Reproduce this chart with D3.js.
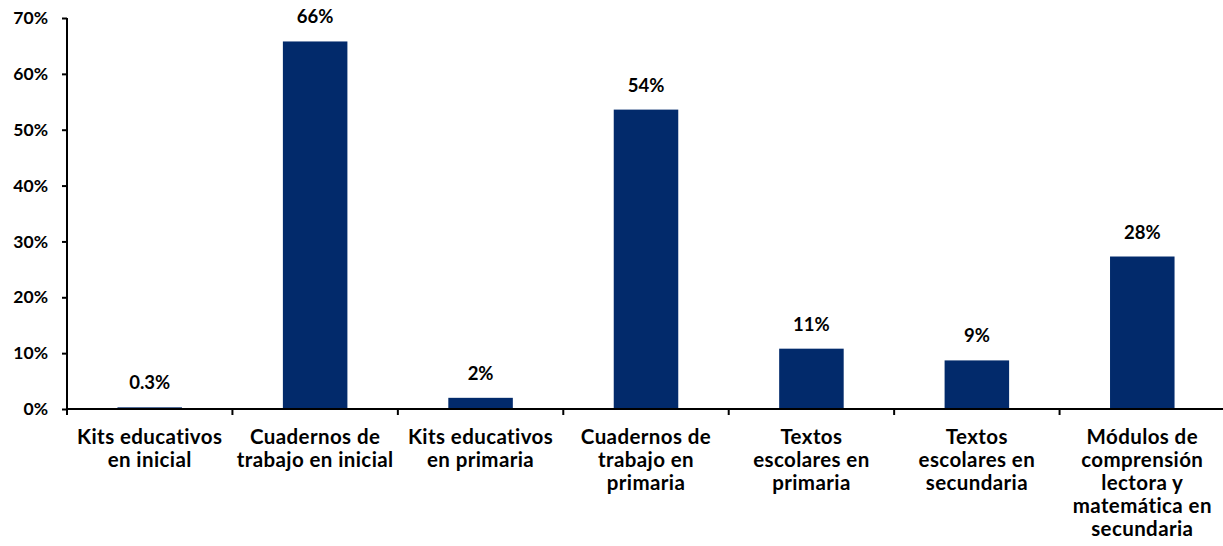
<!DOCTYPE html>
<meta charset="utf-8">
<title>Materiales educativos</title>
<style>
body { margin: 0; background: #fff; font-family: Lato, "Open Sans", sans-serif; }
svg { display: block; }
.axis path, .axis line { stroke: #000; stroke-width: 2; }
.axis text { font-weight: 700; font-size: 17.5px; fill: #000; font-family: Lato, sans-serif; }
.lbl { font-weight: 700; font-size: 18.5px; fill: #000; text-anchor: middle; }
.cat { font-weight: 700; font-size: 20.5px; letter-spacing: 0.4px; fill: #000; text-anchor: middle; }
</style>
<body>
<div id="graph"></div>
</body>
<script src="https://cdn.jsdelivr.net/npm/d3@7"></script>
<script>

var categories = [
  ['Kits educativos', 'en inicial'],
  ['Cuadernos de', 'trabajo en inicial'],
  ['Kits educativos', 'en primaria'],
  ['Cuadernos de', 'trabajo en', 'primaria'],
  ['Textos', 'escolares en', 'primaria'],
  ['Textos', 'escolares en', 'secundaria'],
  ['Módulos de', 'comprensión', 'lectora y', 'matemática en', 'secundaria']
]
var values = [0.3, 65.8, 2.0, 53.6, 10.8, 8.7, 27.3]
var labels = ['0.3%', '66%', '2%', '54%', '11%', '9%', '28%']
var yTicks = [0, 10, 20, 30, 40, 50, 60, 70]

var W = 1223, H = 546,
    margin = {left: 67, right: -2, top: 18, bottom: 137}

var svg = d3.select('#graph').append('svg').attr('width', W).attr('height', H)

var x = d3.scaleBand().domain(d3.range(values.length))
    .range([margin.left, W - margin.right]).paddingInner(0.61).paddingOuter(0.305)
var xb = d3.scaleBand().domain(d3.range(values.length))
    .range([margin.left, W - margin.right])
var y = d3.scaleLinear().domain([0, 70]).range([H - margin.bottom, margin.top])

svg.selectAll('rect.bar').data(values).join('rect')
  .attr('class', 'bar')
  .attr('x', function(d, i){ return x(i) })
  .attr('width', x.bandwidth())
  .attr('y', function(d){ return y(d) })
  .attr('height', function(d){ return y(0) - y(d) })
  .attr('fill', '#022a6b')

svg.selectAll('text.lbl').data(values).join('text')
  .attr('class', 'lbl')
  .attr('x', function(d, i){ return x(i) + x.bandwidth()/2 })
  .attr('y', function(d){ return y(d) - 18 })
  .text(function(d, i){ return labels[i] })

// y axis
var ya = svg.append('g').attr('class', 'axis')
  .attr('transform', 'translate(' + margin.left + ',0)')
  .call(d3.axisLeft(y).tickValues(yTicks).tickSize(5).tickPadding(14)
    .tickFormat(function(d){ return d + '%' }))
ya.select('.domain').attr('d', 'M0,' + y(70) + 'V' + y(0))

// x axis with ticks at category boundaries
var xa = svg.append('g').attr('class', 'axis')
  .attr('transform', 'translate(0,' + y(0) + ')')
xa.append('line').attr('x1', margin.left).attr('x2', W).attr('y1', 0).attr('y2', 0)
xa.selectAll('line.t').data(d3.range(values.length + 1)).join('line')
  .attr('class', 't')
  .attr('x1', function(i){ return i < values.length ? xb(i) : xb(i-1) + xb.bandwidth() })
  .attr('x2', function(i){ return i < values.length ? xb(i) : xb(i-1) + xb.bandwidth() })
  .attr('y1', 0).attr('y2', 6)

svg.selectAll('text.cat').data(categories).join('text')
  .attr('class', 'cat')
  .attr('x', function(d, i){ return xb(i) + xb.bandwidth()/2 })
  .attr('y', y(0) + 35)
  .selectAll('tspan').data(function(d){ return d }).join('tspan')
    .attr('x', function(){ return d3.select(this.parentNode).attr('x') })
    .attr('dy', function(d, i){ return i ? 23 : 0 })
    .text(function(d){ return d })

</script>
